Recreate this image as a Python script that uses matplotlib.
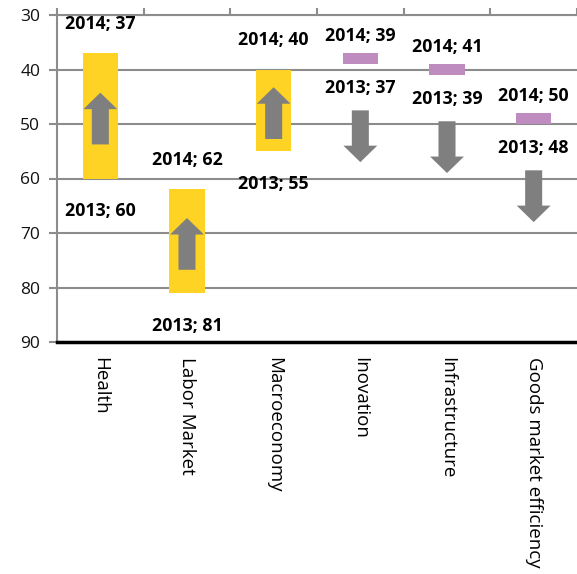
import matplotlib
matplotlib.use("Agg")
import matplotlib.pyplot as plt
import numpy as np

categories = ["Health", "Labor Market", "Macroeconomy", "Inovation",
              "Infrastructure", "Goods market efficiency"]
rank_2013 = [60, 81, 55, 37, 39, 48]
rank_2014 = [37, 62, 40, 39, 41, 50]

yellow = "#FFD324"
purple = "#BF8CBF"
arrow_gray = "#7F7F7F"
grid_gray = "#8C8C8C"

plt.rcParams['font.family'] = ['Open Sans', 'DejaVu Sans']

fig = plt.figure(figsize=(5.77, 5.74), dpi=100)
ax = fig.add_axes([57/577, 1 - 342/574, 520/577, 327/574])

x = np.arange(len(categories))
r13 = np.array(rank_2013)
r14 = np.array(rank_2014)
lo = np.minimum(r13, r14)
hi = np.maximum(r13, r14)
improved = r14 < r13

# floating bars between the two years
ax.bar(x, hi - lo, bottom=lo, width=0.41,
       color=[yellow if u else purple for u in improved], zorder=3)

arrow_style = 'simple,head_length=0.95,head_width=1.95,tail_width=0.98'
for i in range(len(categories)):
    if improved[i]:
        c = (lo[i] + hi[i]) / 2 + 0.5
        tail, tip = c + 4.75, c - 4.75
        off_top, off_bot = 21, 23.5
    else:
        tail = hi[i] + 8.5
        tip = tail + 9.5
        off_top, off_bot = 12.6, 17.3
    ax.annotate('', xy=(x[i], tip), xytext=(x[i], tail),
                arrowprops=dict(arrowstyle=arrow_style, color=arrow_gray,
                                mutation_scale=12.5, shrinkA=0, shrinkB=0,
                                lw=0), zorder=4)
    ax.annotate(f"2014; {rank_2014[i]}", xy=(x[i], lo[i]),
                xytext=(0, off_top), textcoords='offset points',
                ha='center', va='center', fontsize=12.8, fontweight='bold',
                color='black', zorder=5)
    ax.annotate(f"2013; {rank_2013[i]}", xy=(x[i], hi[i]),
                xytext=(0, -off_bot), textcoords='offset points',
                ha='center', va='center', fontsize=12.8, fontweight='bold',
                color='black', zorder=5)

ax.set_ylim(90, 30)
ax.set_yticks(np.arange(30, 91, 10))
ax.set_xlim(-0.5, 5.46)

ax.set_xticks(x)
ax.set_xticklabels(categories, rotation=270, fontsize=13.5)
ax.set_xticks(np.arange(-0.5, 6, 1), minor=True)
ax.tick_params(axis='x', which='major', length=0, pad=11)
ax.tick_params(axis='x', which='minor', top=True, bottom=False,
               length=5, width=1.5, color=grid_gray, direction='out')
ax.tick_params(axis='y', length=6, width=1.5, color=grid_gray, labelsize=12.5,
               pad=6, labelcolor='#111111')

ax.yaxis.grid(True, color=grid_gray, linewidth=1.5, zorder=0)
ax.set_axisbelow(True)

for s in ['top', 'left']:
    ax.spines[s].set_color(grid_gray)
    ax.spines[s].set_linewidth(1.5)
ax.spines['right'].set_visible(False)
ax.spines['bottom'].set_color('black')
ax.spines['bottom'].set_linewidth(2.5)

fig.savefig("out.png", dpi=100)
